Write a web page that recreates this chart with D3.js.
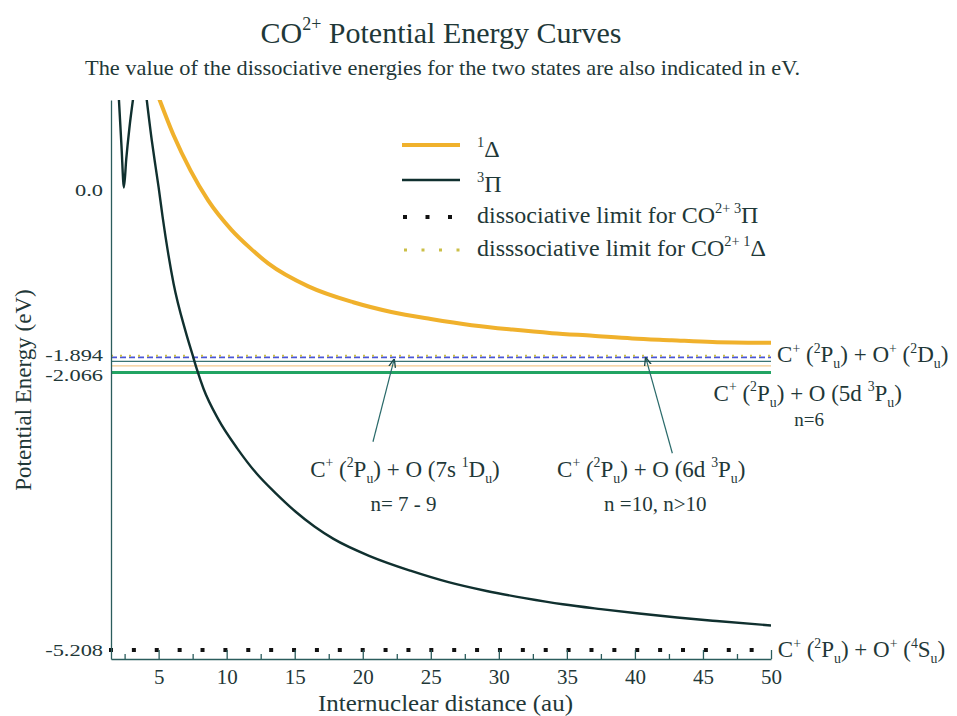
<!DOCTYPE html>
<html>
<head>
<meta charset="utf-8">
<script src="https://cdn.jsdelivr.net/npm/d3@7"></script>
<style>
  body { margin: 0; background: #fff; }
  text { font-family: "Liberation Serif", "Times New Roman", serif; fill: #1f3838; }
</style>
</head>
<body>
<svg id="chart"></svg>
<script>
// values (x in au, energy in eV)
var xMajorTicks = [5, 10, 15, 20, 25, 30, 35, 40, 45, 50];
var xMinorTicks = [2.5, 7.5, 12.5, 17.5, 22.5, 27.5, 32.5, 37.5, 42.5, 47.5];
var yTicks = [0, -1.894, -2.066, -5.208];

// 1Delta curve
var delta1 = [[5.05,1.03],[6.1,0.62],[7.35,0.22],[8.65,-0.12],[10.35,-0.45],[11.75,-0.66],
  [13.05,-0.83],[16.0,-1.09],[19.3,-1.27],[22.1,-1.38],[25.0,-1.46],[28.0,-1.53],[31.0,-1.58],
  [33.9,-1.62],[36.9,-1.65],[39.8,-1.68],[42.7,-1.70],[45.7,-1.72],[50.0,-1.73]];

// 3Pi curve: the narrow well, then the repulsive branch
var pi3Well = [[2.08,1.03],[2.27,0.5],[2.45,0.03],[2.62,0.35],[2.85,0.7],[3.12,1.03]];
var pi3Curve = [[4.12,1.03],[4.5,0.56],[4.78,0.26],[5.0,0.03],[5.29,-0.3],[6.1,-1.06],[6.98,-1.6],
  [7.5,-1.87],[7.79,-2.02],[8.3,-2.25],[9.4,-2.6],[10.8,-2.93],[12.2,-3.21],[13.65,-3.44],
  [15.05,-3.64],[16.45,-3.81],[17.85,-3.95],[20.6,-4.15],[23.5,-4.31],[26.3,-4.44],[29.1,-4.54],
  [31.9,-4.62],[34.7,-4.69],[37.5,-4.745],[40.3,-4.795],[43.1,-4.84],[46.0,-4.88],[50.0,-4.93]];

var limitPi3 = -5.208;
var limitDelta1 = -1.894;
var levels = [-1.94, -1.99, -2.066];
var levelColors = ["#3a7474", "#f3c88e", "#22a463"];
var levelWidths = [1.3, 1.3, 3];

// arrows: [x1,y1,x2,y2]
var arrows = [[20.75,-2.85,22.3,-1.92],[42.75,-2.98,40.8,-1.90]];

// annotations: [x, y, text, anchor, size]
var notes = [
  [23.1, -3.25, "C^{+} (^{2}P_{u}) + O (7s ^{1}D_{u})", "middle", 23],
  [23.0, -3.63, "n= 7 - 9", "middle", 21],
  [41.2, -3.25, "C^{+} (^{2}P_{u}) + O (6d ^{3}P_{u})", "middle", 23],
  [41.5, -3.63, "n =10, n>10", "middle", 21],
  [50.45, -1.95, "C^{+} (^{2}P_{u}) + O^{+} (^{2}D_{u})", "start", 23],
  [52.7, -2.39, "C^{+} (^{2}P_{u}) + O (5d ^{3}P_{u})", "middle", 23],
  [52.8, -2.67, "n=6", "middle", 19],
  [50.5, -5.29, "C^{+} (^{2}P_{u}) + O^{+} (^{4}S_{u})", "start", 23]
];

var screen = {width:957, height:716};
var margins = {left:111, right:186, top:100, bottom:57};
var graph = {
  width: screen.width - margins.left - margins.right,
  height: screen.height - margins.top - margins.bottom
};

// writes "^{..}" as superscript and "_{..}" as subscript
var rich = function(textSel, str, size)
{
  var off = 0, m;
  var re = /\^\{([^}]*)\}|_\{([^}]*)\}|([^\^_]+)/g;
  while ((m = re.exec(str)))
  {
    var target = m[1] != null ? -0.42*size : (m[2] != null ? 0.24*size : 0);
    var t = textSel.append("tspan")
      .text(m[1] != null ? m[1] : (m[2] != null ? m[2] : m[3]))
      .attr("dy", target - off);
    if (target !== 0) { t.attr("font-size", 0.6*size); }
    off = target;
  }
  return textSel;
};

var svg = d3.select("#chart")
  .attr("width", screen.width)
  .attr("height", screen.height);

svg.append("rect").attr("width", screen.width).attr("height", screen.height).attr("fill", "#fff");

// titles
rich(svg.append("text").attr("x", 441).attr("y", 43).attr("text-anchor", "middle")
  .attr("font-size", 30), "CO^{2+} Potential Energy Curves", 30);
svg.append("text").attr("x", 442.5).attr("y", 75).attr("text-anchor", "middle")
  .attr("font-size", 21).attr("textLength", 715).attr("lengthAdjust", "spacingAndGlyphs")
  .text("The value of the dissociative energies for the two states are also indicated in eV.");

var x = d3.scaleLinear().domain([1.5, 50]).range([0, graph.width]);
var y = d3.scaleLinear().domain([-5.31, 1.02]).range([graph.height, 0]);

var target = svg.append("g")
  .attr("transform", "translate(" + margins.left + "," + margins.top + ")");

target.append("clipPath").attr("id", "clip")
  .append("rect").attr("width", graph.width).attr("height", graph.height);

// dissociative limit lines
target.append("line")
  .attr("x1", -2).attr("x2", graph.width)
  .attr("y1", y(limitPi3)).attr("y2", y(limitPi3))
  .attr("stroke", "#111").attr("stroke-width", 4)
  .attr("stroke-dasharray", "4,18.88");

target.selectAll(".level")
  .data(levels)
  .enter()
  .append("line")
  .attr("class", "level")
  .attr("x1", 0).attr("x2", graph.width)
  .attr("y1", function(d) { return y(d); })
  .attr("y2", function(d) { return y(d); })
  .attr("stroke", function(d, i) { return levelColors[i]; })
  .attr("stroke-width", function(d, i) { return levelWidths[i]; });

target.append("line")
  .attr("x1", 0).attr("x2", graph.width)
  .attr("y1", y(limitDelta1)).attr("y2", y(limitDelta1))
  .attr("stroke", "#4b56d6").attr("stroke-width", 1.6)
  .attr("stroke-dasharray", "6,3");
target.append("line")
  .attr("x1", 0).attr("x2", graph.width)
  .attr("y1", y(limitDelta1) - 1.5).attr("y2", y(limitDelta1) - 1.5)
  .attr("stroke", "#cbbf48").attr("stroke-width", 2)
  .attr("stroke-dasharray", "2,7");

// curves
var lineGen = d3.line()
  .x(function(d) { return x(d[0]); })
  .y(function(d) { return y(d[1]); })
  .curve(d3.curveMonotoneX);

var curves = target.append("g").attr("clip-path", "url(#clip)");
curves.append("path").datum(delta1).attr("d", lineGen)
  .attr("fill", "none").attr("stroke", "#f0b12c").attr("stroke-width", 4);
curves.append("path").datum(pi3Well).attr("d", lineGen)
  .attr("fill", "none").attr("stroke", "#10302f").attr("stroke-width", 2.4);
curves.append("path").datum(pi3Curve).attr("d", lineGen)
  .attr("fill", "none").attr("stroke", "#10302f").attr("stroke-width", 2.4);

// arrows
svg.append("defs").append("marker")
  .attr("id", "arrow").attr("viewBox", "0 0 10 10")
  .attr("refX", 9).attr("refY", 5)
  .attr("markerWidth", 7).attr("markerHeight", 7)
  .attr("orient", "auto")
  .append("path").attr("d", "M0,1 L10,5 L0,9")
  .attr("fill", "none").attr("stroke", "#1f4a4a").attr("stroke-width", 1.6);

target.selectAll(".arrow")
  .data(arrows)
  .enter()
  .append("line")
  .attr("class", "arrow")
  .attr("x1", function(d) { return x(d[0]); })
  .attr("y1", function(d) { return y(d[1]); })
  .attr("x2", function(d) { return x(d[2]); })
  .attr("y2", function(d) { return y(d[3]); })
  .attr("stroke", "#2a6a6a").attr("stroke-width", 1.2)
  .attr("marker-end", "url(#arrow)");

// axes
var axisColor = "#2b5d5d";
var xAxis = target.append("g")
  .attr("transform", "translate(0," + graph.height + ")")
  .call(d3.axisBottom(x).tickValues(xMajorTicks).tickSize(-9).tickSizeOuter(0));
var xMinor = target.append("g")
  .attr("transform", "translate(0," + graph.height + ")")
  .call(d3.axisBottom(x).tickValues(xMinorTicks).tickSize(-5).tickFormat(""));
xMinor.select(".domain").remove();

xAxis.selectAll("text").attr("y", 25).attr("dy", 0).attr("font-size", 21);

// the two close labels are pushed a little apart
var yNudge = {"-1.894": -2.5, "-2.066": 2};
var yAxis = target.append("g")
  .call(d3.axisLeft(y).tickValues(yTicks).tickSize(0).tickPadding(6)
    .tickFormat(function(d) { return d === 0 ? "0.0" : d.toFixed(3); }));
yAxis.selectAll("text").attr("font-size", 17).attr("dy", "0.34em")
  .attr("y", function(d) { return yNudge[d] || 0; })
  .attr("transform", "scale(1.32,1)");

[xAxis, xMinor, yAxis].forEach(function(a)
{
  a.selectAll("path, line").attr("stroke", axisColor).attr("stroke-width", 1.3);
  a.selectAll("text").attr("fill", "#1f3838")
    .attr("font-family", "'Liberation Serif', 'Times New Roman', serif");
});

// axis titles
svg.append("text").attr("x", 445.5).attr("y", 711).attr("text-anchor", "middle")
  .attr("font-size", 23).attr("textLength", 255).attr("lengthAdjust", "spacingAndGlyphs")
  .text("Internuclear distance (au)");
svg.append("text").attr("transform", "translate(31,390) rotate(-90)")
  .attr("text-anchor", "middle").attr("font-size", 23).text("Potential Energy (eV)");

// annotations
notes.forEach(function(n)
{
  rich(target.append("text")
    .attr("x", x(n[0])).attr("y", y(n[1]))
    .attr("text-anchor", n[3]).attr("font-size", n[4]), n[2], n[4]);
});

// legend
var legend = svg.append("g");
legend.append("line").attr("x1", 402).attr("x2", 460).attr("y1", 145).attr("y2", 145)
  .attr("stroke", "#f0b12c").attr("stroke-width", 4);
legend.append("line").attr("x1", 402).attr("x2", 460).attr("y1", 180).attr("y2", 180)
  .attr("stroke", "#10302f").attr("stroke-width", 2.5);
legend.append("line").attr("x1", 403).attr("x2", 453).attr("y1", 217).attr("y2", 217)
  .attr("stroke", "#111").attr("stroke-width", 4).attr("stroke-dasharray", "4,18.5");
legend.append("line").attr("x1", 404).attr("x2", 460).attr("y1", 250).attr("y2", 250)
  .attr("stroke", "#cbbf48").attr("stroke-width", 3).attr("stroke-dasharray", "3,14.5");

var legendText = [
  [157, "^{1}Δ"],
  [192, "^{3}Π"],
  [223, "dissociative limit for CO^{2+ 3}Π"],
  [256, "disssociative limit for CO^{2+ 1}Δ"]
];
legendText.forEach(function(l)
{
  rich(legend.append("text").attr("x", 477).attr("y", l[0]).attr("font-size", 24), l[1], 24);
});
</script>
</body>
</html>
